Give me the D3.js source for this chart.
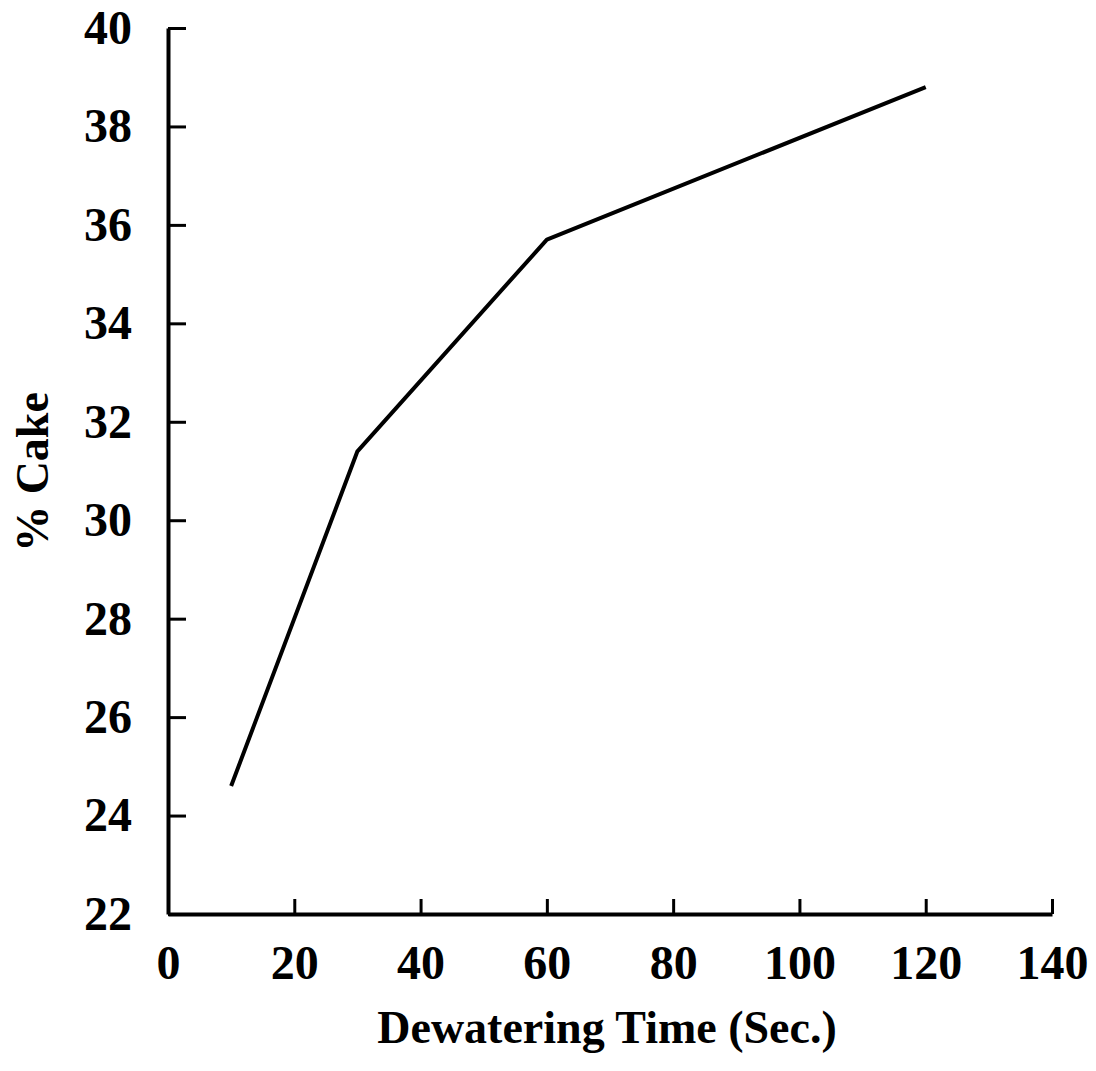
<!DOCTYPE html>
<html>
<head>
<meta charset="utf-8">
<script src="https://cdn.jsdelivr.net/npm/d3@7"></script>
<style>
  body { margin: 0; background: #fff; }
  svg text { font-family: "Liberation Serif", "Times New Roman", serif; font-weight: bold; fill: #000; }
</style>
</head>
<body>
<div id="chart"></div>
<script>
// dewatering time (sec) vs % cake solids
const times = [10, 30, 60, 120];
const cake = [24.6, 31.4, 35.7, 38.8];
const xTicks = [0, 20, 40, 60, 80, 100, 120, 140];
const yTicks = [22, 24, 26, 28, 30, 32, 34, 36, 38, 40];

const width = 1096, height = 1071;

const svg = d3.select('#chart')
  .append('svg')
  .attr('width', width)
  .attr('height', height);

const x = d3.scaleLinear().domain([0, 140]).range([168, 1052]);
const y = d3.scaleLinear().domain([22, 40]).range([914, 28]);

/*x axis*/
const xAxis = svg.append('g')
  .attr('transform', `translate(0,${y(22)})`)
  .call(d3.axisBottom(x).tickValues(xTicks).tickSizeInner(-15).tickSizeOuter(0).tickPadding(31));

/*y axis*/
const yAxis = svg.append('g')
  .attr('transform', `translate(${x(0)},0)`)
  .call(d3.axisLeft(y).tickValues(yTicks).tickSizeInner(-18).tickSizeOuter(0).tickPadding(36));

[xAxis, yAxis].forEach(g => {
  g.attr('font-family', null).attr('font-size', null);
  g.select('.domain').attr('stroke', '#000').attr('stroke-width', 4);
  g.selectAll('.tick line').attr('stroke', '#000').attr('stroke-width', 3);
  g.selectAll('.tick text').style('font-size', '48px');
});
// 0 tick sits on the y axis
xAxis.selectAll('.tick').filter(d => d === 0).select('line').remove();

/*line*/
const pts = times.map((t, i) => [t, cake[i]]);
svg.append('path')
  .datum(pts)
  .attr('fill', 'none')
  .attr('stroke', '#000')
  .attr('stroke-width', 4)
  .attr('stroke-linejoin', 'round')
  .attr('d', d3.line().x(d => x(d[0])).y(d => y(d[1])));

/*titles*/
svg.append('text')
  .attr('x', 607)
  .attr('y', 1043)
  .attr('text-anchor', 'middle')
  .style('font-size', '46px')
  .text('Dewatering Time (Sec.)');

svg.append('text')
  .attr('transform', 'translate(48,472) rotate(-90)')
  .attr('text-anchor', 'middle')
  .style('font-size', '46px')
  .text('% Cake');
</script>
</body>
</html>
